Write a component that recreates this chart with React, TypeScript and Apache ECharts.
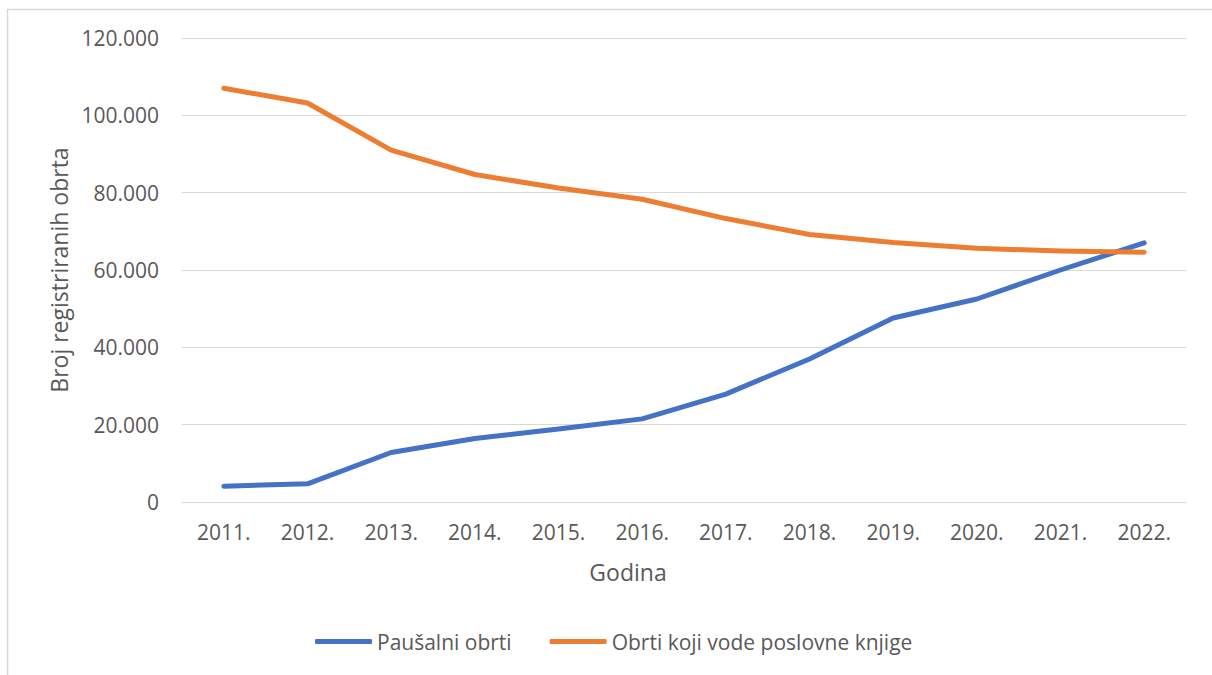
import React, { useEffect, useRef } from "react";
import * as echarts from "echarts";

const years = ["2011.", "2012.", "2013.", "2014.", "2015.", "2016.", "2017.", "2018.", "2019.", "2020.", "2021.", "2022."];
const pausalni = [4100, 4700, 12800, 16400, 18900, 21500, 27900, 37000, 47600, 52500, 60000, 67000];
const knjige = [107000, 103200, 91000, 84700, 81200, 78300, 73300, 69200, 67100, 65600, 64900, 64600];
const seriesNames = ["Paušalni obrti", "Obrti koji vode poslovne knjige"];
const xTitle = "Godina";
const yTitle = "Broj registriranih obrta";

const FONT = "'Open Sans', 'Noto Sans', sans-serif";
const TXT = "#595959";

function fmt(v: number) {
  return String(v).replace(/\B(?=(\d{3})+(?!\d))/g, ".");
}

export default function App() {
  const ref = useRef<HTMLDivElement>(null);
  useEffect(() => {
    if (!ref.current) return;
    const chart = echarts.init(ref.current, undefined, { renderer: "svg" });
    chart.setOption({
      animation: false,
      backgroundColor: "#ffffff",
      textStyle: { fontFamily: FONT },
      graphic: [
        {
          type: "rect",
          shape: { x: 7.5, y: 9.5, width: 1210, height: 670 },
          style: { fill: "none", stroke: "#d9d9d9", lineWidth: 1.5 },
          silent: true,
        },
        {
          type: "text",
          x: 628,
          y: 572,
          style: {
            text: xTitle,
            fontFamily: FONT,
            fontSize: 23,
            fill: TXT,
            align: "center",
            verticalAlign: "middle",
          },
          silent: true,
        },
      ],
      grid: { left: 182, right: 26, top: 38, bottom: 173 },
      legend: {
        left: 310,
        top: 626,
        itemWidth: 57,
        itemHeight: 5,
        itemGap: 38,
        icon: "roundRect",
        textStyle: { fontFamily: FONT, fontSize: 21, color: TXT },
        data: seriesNames,
      },
      xAxis: {
        type: "category",
        data: years,
        boundaryGap: true,
        axisLine: { lineStyle: { color: "#d9d9d9", width: 1 } },
        axisTick: { show: false },
        axisLabel: { fontFamily: FONT, fontSize: 21, color: TXT, margin: 19 },
      },
      yAxis: {
        type: "value",
        min: 0,
        max: 120000,
        interval: 20000,
        axisLine: { show: false },
        axisTick: { show: false },
        splitLine: { lineStyle: { color: "#d9d9d9", width: 1 } },
        axisLabel: {
          fontFamily: FONT,
          fontSize: 21,
          color: TXT,
          margin: 23,
          formatter: (v: number) => fmt(v),
        },
        name: yTitle,
        nameLocation: "middle",
        nameGap: 112,
        nameTextStyle: { fontFamily: FONT, fontSize: 23, color: TXT },
      },
      series: [
        {
          name: seriesNames[0],
          type: "line",
          data: pausalni,
          showSymbol: false,
          symbol: "none",
          color: "#4472C4",
          lineStyle: { width: 5, color: "#4472C4", cap: "round", join: "round" },
        },
        {
          name: seriesNames[1],
          type: "line",
          data: knjige,
          showSymbol: false,
          symbol: "none",
          color: "#ED7D31",
          lineStyle: { width: 5, color: "#ED7D31", cap: "round", join: "round" },
        },
      ],
    });
    return () => chart.dispose();
  }, []);
  return (
    <div
      ref={ref}
      style={{ position: "absolute", left: 0, top: 0, width: 1212, height: 675 }}
    />
  );
}
